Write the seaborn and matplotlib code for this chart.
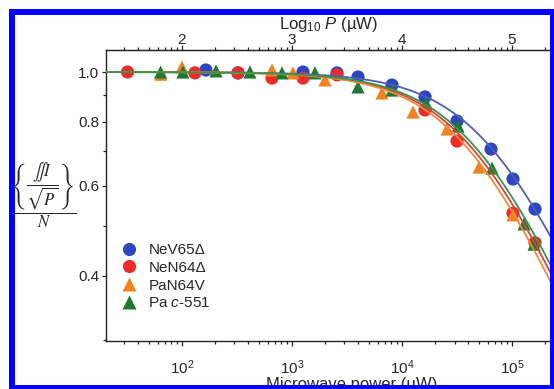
import numpy as np
import pandas as pd
import seaborn as sns
import matplotlib.pyplot as plt
from matplotlib.ticker import FixedLocator, NullFormatter, NullLocator, LogLocator
from matplotlib.patches import Rectangle

# valores (potência em µW, razão normalizada)
nev_p = [165, 323, 1259, 2565, 3981, 8110, 16180, 31620, 64400, 102000, 161800]
nev_y = [1.009, 0.996, 1.0, 0.996, 0.978, 0.943, 0.894, 0.802, 0.707, 0.618, 0.540]
nen_p = [32, 131, 323, 658, 1259, 2565, 16180, 31620, 102000, 161800]
nen_y = [1.0, 0.996, 0.996, 0.973, 0.973, 0.987, 0.843, 0.733, 0.530, 0.464]
pan_p = [64, 100, 658, 1021, 1995, 6580, 12590, 25650, 50120, 102000]
pan_y = [0.99, 1.023, 1.009, 0.996, 0.965, 0.910, 0.835, 0.774, 0.652, 0.526]
pac_p = [64, 102, 204, 415, 811, 1618, 3981, 8110, 16520, 32300, 65800, 128500, 158500]
pac_y = [1.0, 1.0, 1.005, 1.0, 0.996, 0.996, 0.935, 0.922, 0.870, 0.784, 0.649, 0.505, 0.461]

amostras = ['NeV65Δ', 'NeN64Δ', 'PaN64V', 'Pa $c$-551']
# parâmetros do ajuste de saturação: P1/2 (µW) e fator b
p_meia = [66000, 44000, 40000, 48000]
fator_b = [1.0, 1.0, 1.0, 1.0]
ticks_topo = [2, 3, 4, 5]

cores_pontos = ['#2b46c0', '#ee2a2a', '#f5821f', '#1f7a30']
cores_linhas = ['#4d5fb5', '#d9443e', '#f08a3c', '#3a954a']
marcadores = ['o', 'o', '^', '^']

dados = pd.concat([
    pd.DataFrame({'P': p, 'razao': y, 'amostra': nome})
    for p, y, nome in zip([nev_p, nen_p, pan_p, pac_p],
                          [nev_y, nen_y, pan_y, pac_y], amostras)
], ignore_index=True)

# curvas de ajuste I/sqrt(P) ~ (1 + P/P1/2)^(-b/2)
grade = np.logspace(np.log10(20), np.log10(2.3e5), 200)
curvas = pd.concat([
    pd.DataFrame({'P': grade, 'razao': (1 + grade / ph) ** (-b / 2), 'amostra': nome})
    for ph, b, nome in zip(p_meia, fator_b, amostras)
], ignore_index=True)

sns.set_style('ticks')
plt.rcParams['font.family'] = ['Liberation Sans', 'DejaVu Sans']
plt.rcParams['mathtext.fontset'] = 'custom'
plt.rcParams['mathtext.rm'] = 'Liberation Sans'
plt.rcParams['mathtext.it'] = 'Liberation Sans:italic'
plt.rcParams['mathtext.bf'] = 'Liberation Sans:bold'

fig = plt.figure(figsize=(5.54, 3.89), dpi=100)
ax = fig.add_axes([106 / 554, 1 - 341 / 389, 445 / 554, 291 / 389])

sns.scatterplot(data=dados, x='P', y='razao', hue='amostra', style='amostra',
                hue_order=amostras, style_order=amostras,
                palette=cores_pontos, markers=marcadores, s=90,
                edgecolor='none', ax=ax, zorder=2)
sns.lineplot(data=curvas, x='P', y='razao', hue='amostra', hue_order=amostras,
             palette=cores_linhas, linewidth=1.3, legend=False, ax=ax, zorder=3)

ax.set_xscale('log')
ax.set_yscale('log')
ax.set_xlim(20.4, 2.26e5)
ax.set_ylim(0.2983, 1.104)

ax.yaxis.set_major_locator(FixedLocator([0.4, 0.6, 0.8, 1.0]))
ax.yaxis.set_minor_locator(FixedLocator([0.3, 0.5, 0.7, 0.9]))
ax.yaxis.set_major_formatter(plt.FuncFormatter(lambda v, pos: f'{v:.1f}'))
ax.yaxis.set_minor_formatter(NullFormatter())
ax.xaxis.set_major_locator(LogLocator(base=10, numticks=10))
ax.xaxis.set_minor_locator(LogLocator(base=10, subs=np.arange(2, 10), numticks=10))

for s in ax.spines.values():
    s.set_linewidth(1.0)
    s.set_color('#222222')
ax.tick_params(which='both', direction='out', top=True, right=True,
               labelsize=11, color='#222222', width=0.9)
ax.tick_params(axis='x', which='major', length=3.5, pad=9)
ax.tick_params(axis='x', which='minor', length=2)
ax.tick_params(axis='y', which='major', length=3, pad=2)
ax.tick_params(axis='y', which='minor', length=2.5)

ax.set_xlabel('Microwave power (µW)', fontsize=12)
ax.xaxis.set_label_coords((352 - 106) / 445, -0.125)
ax.set_ylabel('')

topo = ax.secondary_xaxis('top', functions=(np.log10, lambda t: 10 ** t))
topo.set_xscale('linear')
topo.xaxis.set_major_locator(FixedLocator(ticks_topo))
topo.xaxis.set_major_formatter(plt.FuncFormatter(lambda v, pos: f'{v:.0f}'))
topo.xaxis.set_minor_locator(NullLocator())
topo.tick_params(which='both', length=0, labelsize=11, pad=2)
topo.set_xlabel('Log$_{10}$ $P$ (µW)', fontsize=12, labelpad=3)

fig.text(43 / 554, 1 - 195 / 389,
         r'$\dfrac{\left\{\dfrac{\iint I}{\sqrt{P}}\right\}}{N}$',
         fontsize=12, ha='center', va='center', math_fontfamily='stix')

ax.legend(loc='upper left', bbox_to_anchor=(121 / 554, 1 - 243 / 389),
          bbox_transform=fig.transFigure, frameon=False, fontsize=11,
          handlelength=1.0, handletextpad=0.8, labelspacing=0.25,
          borderpad=0, borderaxespad=0, markerscale=1.0)

moldura = Rectangle((12 / 554, 1.5 / 389), 540.5 / 554, 375.5 / 389,
                    transform=fig.transFigure, fill=False,
                    edgecolor='#0000ff', linewidth=4.3, zorder=10)
fig.patches.append(moldura)

fig.savefig('out.png', dpi=100, facecolor='white')
